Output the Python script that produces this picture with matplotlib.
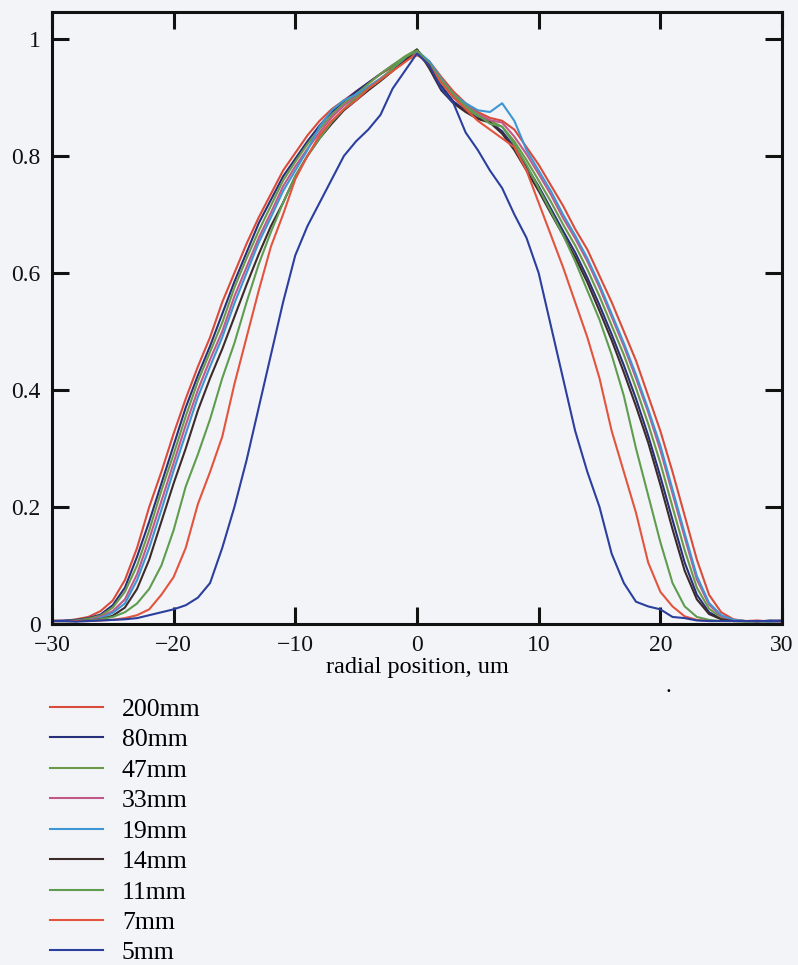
import matplotlib
matplotlib.use("Agg")
import matplotlib.pyplot as plt

plt.rcParams['font.family'] = 'Liberation Serif'

# radial position, um
x = list(range(-30, 31))

labels = ['200mm', '80mm', '47mm', '33mm', '19mm', '14mm', '11mm', '7mm', '5mm']
colors = ['#d94b3a', '#26307a', '#6a9a48', '#c2588a', '#3f96d2', '#3d2a2a',
          '#5f9c50', '#e2543e', '#2a3f9e']

p200 = [0.006, 0.005, 0.008, 0.012, 0.022, 0.04, 0.075, 0.13, 0.2, 0.26, 0.325,
        0.385, 0.44, 0.49, 0.55, 0.6, 0.65, 0.695, 0.735, 0.775, 0.805, 0.835,
        0.86, 0.88, 0.895, 0.91, 0.925, 0.94, 0.952, 0.963, 0.972,
        0.962, 0.935, 0.91, 0.89, 0.875, 0.865, 0.86, 0.845, 0.815, 0.785, 0.75,
        0.715, 0.675, 0.64, 0.595, 0.55, 0.5, 0.45, 0.39, 0.33, 0.26, 0.185,
        0.11, 0.05, 0.02, 0.008, 0.005, 0.006, 0.004, 0.005]
p80 = [0.005, 0.006, 0.007, 0.01, 0.016, 0.032, 0.062, 0.115, 0.175, 0.24, 0.305,
       0.37, 0.425, 0.475, 0.53, 0.585, 0.635, 0.685, 0.725, 0.765, 0.795, 0.825,
       0.852, 0.875, 0.893, 0.91, 0.925, 0.94, 0.955, 0.968, 0.98,
       0.955, 0.92, 0.893, 0.878, 0.865, 0.858, 0.842, 0.815, 0.782, 0.748, 0.71,
       0.672, 0.635, 0.592, 0.545, 0.495, 0.442, 0.385, 0.322, 0.252, 0.178,
       0.105, 0.05, 0.02, 0.009, 0.005, 0.005, 0.004, 0.006, 0.005]
p47 = [0.005, 0.005, 0.006, 0.009, 0.014, 0.028, 0.055, 0.1, 0.16, 0.228, 0.29,
       0.355, 0.415, 0.465, 0.515, 0.575, 0.625, 0.672, 0.715, 0.758, 0.79,
       0.82, 0.846, 0.87, 0.89, 0.905, 0.923, 0.94, 0.955, 0.97, 0.982,
       0.958, 0.925, 0.9, 0.882, 0.868, 0.86, 0.85, 0.825, 0.793, 0.758, 0.722,
       0.683, 0.647, 0.606, 0.56, 0.51, 0.46, 0.403, 0.342, 0.275, 0.2, 0.126,
       0.062, 0.026, 0.011, 0.006, 0.005, 0.005, 0.004, 0.005]
p33 = [0.005, 0.005, 0.005, 0.007, 0.012, 0.022, 0.042, 0.085, 0.145, 0.21, 0.275,
       0.34, 0.4, 0.452, 0.5, 0.56, 0.61, 0.66, 0.703, 0.748, 0.782, 0.812,
       0.84, 0.866, 0.886, 0.902, 0.918, 0.932, 0.948, 0.962, 0.975,
       0.96, 0.93, 0.903, 0.887, 0.872, 0.861, 0.857, 0.833, 0.803, 0.769,
       0.734, 0.694, 0.659, 0.62, 0.575, 0.525, 0.475, 0.42, 0.362, 0.297,
       0.223, 0.148, 0.076, 0.033, 0.013, 0.007, 0.005, 0.005, 0.005, 0.004]
p19 = [0.005, 0.005, 0.005, 0.006, 0.01, 0.019, 0.035, 0.075, 0.13, 0.195, 0.262,
       0.325, 0.388, 0.44, 0.49, 0.548, 0.6, 0.652, 0.695, 0.74, 0.775, 0.81,
       0.85, 0.878, 0.895, 0.905, 0.918, 0.932, 0.948, 0.965, 0.98,
       0.962, 0.932, 0.905, 0.89, 0.878, 0.875, 0.89, 0.86, 0.81, 0.775, 0.74,
       0.7, 0.664, 0.625, 0.58, 0.53, 0.48, 0.426, 0.367, 0.305, 0.23, 0.155,
       0.082, 0.036, 0.015, 0.007, 0.005, 0.005, 0.004, 0.005]
p14 = [0.005, 0.005, 0.005, 0.006, 0.008, 0.014, 0.028, 0.06, 0.11, 0.175, 0.24,
       0.3, 0.365, 0.42, 0.47, 0.525, 0.58, 0.632, 0.68, 0.72, 0.765, 0.8,
       0.83, 0.855, 0.878, 0.895, 0.912, 0.928, 0.945, 0.962, 0.982,
       0.95, 0.912, 0.89, 0.875, 0.863, 0.857, 0.838, 0.81, 0.775, 0.74,
       0.702, 0.665, 0.627, 0.584, 0.535, 0.485, 0.43, 0.372, 0.31, 0.238,
       0.162, 0.091, 0.042, 0.017, 0.008, 0.005, 0.005, 0.005, 0.005, 0.006]
p11 = [0.005, 0.005, 0.005, 0.006, 0.008, 0.012, 0.02, 0.035, 0.06, 0.1, 0.16,
       0.235, 0.29, 0.35, 0.42, 0.48, 0.55, 0.615, 0.67, 0.72, 0.765, 0.8,
       0.83, 0.858, 0.88, 0.9, 0.915, 0.93, 0.95, 0.968, 0.98,
       0.958, 0.93, 0.905, 0.885, 0.87, 0.855, 0.85, 0.82, 0.785, 0.745, 0.705,
       0.665, 0.62, 0.57, 0.52, 0.46, 0.39, 0.3, 0.22, 0.14, 0.07, 0.03,
       0.012, 0.007, 0.005, 0.005, 0.004, 0.005, 0.005, 0.005]
p7 = [0.005, 0.005, 0.005, 0.005, 0.006, 0.007, 0.01, 0.015, 0.025, 0.05, 0.08,
      0.13, 0.205, 0.26, 0.32, 0.41, 0.49, 0.57, 0.645, 0.7, 0.76, 0.8,
      0.835, 0.86, 0.88, 0.895, 0.915, 0.93, 0.945, 0.96, 0.975,
      0.955, 0.925, 0.9, 0.88, 0.86, 0.845, 0.83, 0.815, 0.775, 0.72, 0.665,
      0.61, 0.55, 0.49, 0.42, 0.33, 0.26, 0.19, 0.105, 0.055, 0.03, 0.013,
      0.007, 0.005, 0.005, 0.005, 0.005, 0.005, 0.005, 0.005]
p5 = [0.005, 0.005, 0.004, 0.005, 0.006, 0.007, 0.008, 0.01, 0.015, 0.02, 0.025,
      0.032, 0.045, 0.07, 0.13, 0.2, 0.28, 0.37, 0.46, 0.55, 0.63, 0.68,
      0.72, 0.76, 0.8, 0.825, 0.845, 0.87, 0.915, 0.945, 0.975,
      0.955, 0.915, 0.89, 0.84, 0.81, 0.775, 0.745, 0.7, 0.66, 0.6, 0.51,
      0.42, 0.33, 0.26, 0.2, 0.12, 0.07, 0.038, 0.03, 0.025, 0.012, 0.01,
      0.006, 0.005, 0.005, 0.005, 0.005, 0.005, 0.005, 0.005]

profiles = [p200, p80, p47, p33, p19, p14, p11, p7, p5]

bg = '#f3f4f8'
fig = plt.figure(figsize=(7.98, 9.65), dpi=100, facecolor=bg)
ax = fig.add_axes([0.065, 0.3534, 0.915, 0.6342], facecolor=bg)

for prof, col, lab in zip(profiles, colors, labels):
    ax.plot(x, prof, color=col, lw=1.5, label=lab)

ax.set_xlim(-30, 30)
ax.set_ylim(0, 1.046)
ax.set_xticks([-30, -20, -10, 0, 10, 20, 30])
ax.set_yticks([0, 0.2, 0.4, 0.6, 0.8, 1])
ax.set_yticklabels(['0', '0.2', '0.4', '0.6', '0.8', '1'])
ax.tick_params(direction='in', length=12, width=2.2, top=True, right=True,
               labelsize=17, pad=8, colors='#111111')
for s in ax.spines.values():
    s.set_linewidth(2.2)
    s.set_color('#111111')
ax.set_xlabel('radial position, um', fontsize=17.5, labelpad=1)

fig.text(668 / 798, 1 - 697 / 965, '.', fontsize=17, ha='center', va='bottom')

fig.legend(loc='upper left', bbox_to_anchor=(50 / 798, 1 - 698 / 965),
           frameon=False, fontsize=18.5, handlelength=2.06, handletextpad=0.74,
           labelspacing=0.29, borderpad=0, borderaxespad=0)

fig.savefig('out.png', dpi=100, facecolor=bg)
